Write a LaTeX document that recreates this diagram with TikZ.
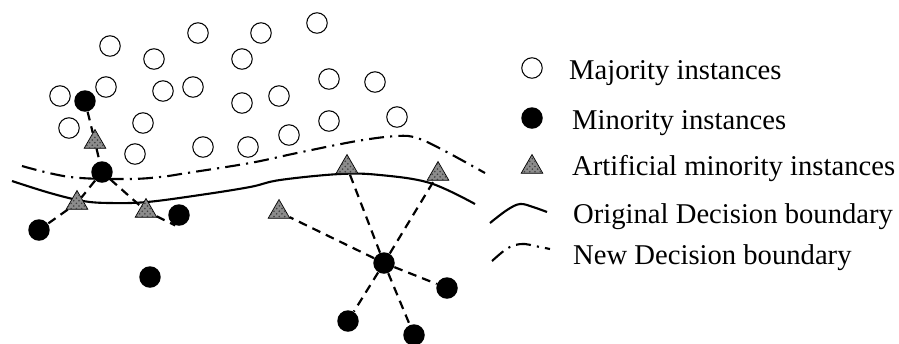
\documentclass[tikz,border=0pt]{standalone}
\usepackage{fontspec}
\setmainfont{Liberation Serif}
\usepackage{tikz}
\usetikzlibrary{shapes.geometric,patterns}

\tikzset{
  major/.style={circle,draw,line width=0.6pt,minimum size=0.41cm,inner sep=0pt},
  minor/.style={circle,fill=black,minimum size=0.43cm,inner sep=0pt},
  synth/.style={regular polygon,regular polygon sides=3,draw,line width=0.4pt,
    fill=black!45,postaction={pattern=crosshatch dots,pattern color=black!75},
    minimum size=0.5cm,inner sep=0pt},
  link/.style={line width=1.25pt,dash pattern=on 5pt off 3.5pt},
  boundary/.style={line width=1.2pt},
  newboundary/.style={line width=1.2pt,dash pattern=on 8.5pt off 3.5pt on 1.2pt off 3.5pt},
  legend/.style={anchor=base west,font=\fontsize{16.3}{18}\selectfont}
}

\begin{document}
\begin{tikzpicture}[x=0.02cm,y=-0.02cm]
		\useasboundingbox (0,0) rectangle (899,343);
		% majority instances
		\node[major] (a1) at (110,46) {};
		\node[major] (a2) at (154,59) {};
		\node[major] (a3) at (198,33) {};
		\node[major] (a4) at (261,33) {};
		\node[major] (a5) at (317,23) {};
		\node[major] (a6) at (242,59) {};
		\node[major] (a7) at (60,96) {};
		\node[major] (a8) at (106,87) {};
		\node[major] (a9) at (163,91) {};
		\node[major] (a10) at (193,87) {};
		\node[major] (a11) at (242,103) {};
		\node[major] (a12) at (279,96) {};
		\node[major] (a13) at (329,79) {};
		\node[major] (a14) at (375,82) {};
		\node[major] (a15) at (69,128) {};
		\node[major] (a16) at (143,123) {};
		\node[major] (a17) at (329,121) {};
		\node[major] (a18) at (397,117) {};
		\node[major] (a19) at (289,135) {};
		\node[major] (a20) at (135,154) {};
		\node[major] (a21) at (203,147) {};
		\node[major] (a22) at (248,147) {};
		% boundaries
		\draw[boundary] plot[smooth,tension=0.6] coordinates {(12,181) (50,193) (83,201) (110,203) (147,202) (200,195) (250,187) (280,180) (340,174) (380,175) (430,183) (475,204)};
		\draw[newboundary] plot[smooth,tension=0.6] coordinates {(22,166) (70,177) (127,179) (160,177) (187,173) (250,163) (297,153) (357,141) (397,136) (417,138) (443,150) (485,173)};
		% minority instances
		\node[minor] (b1) at (85,101) {};
		\node[minor] (b2) at (102,172) {};
		\node[minor] (b3) at (39,230) {};
		\node[minor] (b4) at (179,215) {};
		\node[minor] (b5) at (150,277) {};
		\node[minor] (b6) at (384,263) {};
		\node[minor] (b7) at (447,288) {};
		\node[minor] (b8) at (348,321) {};
		\node[minor] (b9) at (414,335) {};
		% artificial instances
		\node[synth] (s1) at (95,142) {};
		\node[synth] (s2) at (77,203) {};
		\node[synth] (s3) at (146,211) {};
		\node[synth] (s4) at (279,212) {};
		\node[synth] (s5) at (347,167) {};
		\node[synth] (s6) at (438,174) {};
		% links
		\draw[link] (b1) -- (s1);
		\draw[link] (s1) -- (b2);
		\draw[link] (b2) -- (s2);
		\draw[link] (s2) -- (b3);
		\draw[link] (b2) -- (s3);
		\draw[link] (s3) -- (b4.250);
		\draw[link] (b6) -- (s4);
		\draw[link] (b6) -- (s5);
		\draw[link] (b6) -- (s6);
		\draw[link] (b6) -- (b7);
		\draw[link] (b6) -- (b8);
		\draw[link] (b6) -- (b9);
		% legend
		\node[major] (lmaj) at (532,68) {};
		\node[minor] (lmin) at (532,118) {};
		\node[synth] (lsyn) at (532,167) {};
		\draw[boundary] plot[smooth,tension=0.6] coordinates {(490,223) (507,210) (520,204) (533,207) (547,212)};
		\draw[newboundary] plot[smooth,tension=0.6] coordinates {(492,261) (505,250) (515,245) (525,244) (535,246) (550,249)};
		\node[legend] (tmaj) at (563,79) {Majority instances};
		\node[legend] (tmin) at (566,129) {Minority instances};
		\node[legend] (tsyn) at (566,175) {Artificial minority instances};
		\node[legend] (tori) at (567,223) {Original Decision boundary};
		\node[legend] (tnew) at (567,264) {New Decision boundary};
	\end{tikzpicture}
\end{document}
